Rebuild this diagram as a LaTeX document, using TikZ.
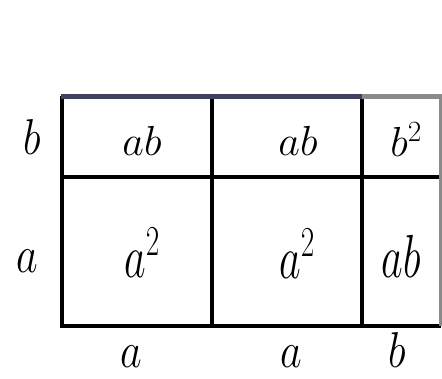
\RequirePackage{fix-cm}
\documentclass[tikz,border=0pt]{standalone}
\usetikzlibrary{positioning}
\definecolor{rimnavy}{RGB}{64,64,96}
\definecolor{rimgray}{RGB}{138,138,138}
\newcommand{\tallmath}[2]{\scalebox{1}[#1]{$#2$}}

\begin{document}
\begin{tikzpicture}[x=1pt, y=1pt,
		gridline/.style={line width=3.2pt, black},
		rimline/.style={line width=5pt},
		cellterm/.style={inner sep=0pt, anchor=base, font=\fontsize{42}{46}\selectfont}]
		\useasboundingbox (0,0) rectangle (442,-379);
		% grid corners g<column><row>
		\foreach \x [count=\i from 0] in {62, 212, 362, 440.5} {
			\foreach \y [count=\j from 0] in {-96.5, -177, -326} {
				\coordinate (g\i\j) at (\x,\y);
			}
		}
		\draw[gridline] (g00) -- (g02) -- (g32);
		\draw[gridline] (g01) -- (g31);
		\draw[gridline] (g10) -- (g12);
		\draw[gridline] (g20) -- (g22);
		\draw[line width=3pt, rimgray] (g30) -- (g32);
		\draw[rimline, rimgray] (g20) -- ([xshift=1.5pt]g30);
		\draw[rimline, rimnavy] ([xshift=-1.5pt]g00) -- (g20);
		% products in the cells
		\node[cellterm] (ab1) at (142,-156) {$ab$};
		\node[cellterm] (ab2) at (298,-156) {$ab$};
		\node[cellterm] (bb) at (406,-157) {$b^2$};
		\node[cellterm] (aa1) at (142,-278) {\tallmath{1.45}{a^2}};
		\node[cellterm] (aa2) at (297,-279) {\tallmath{1.45}{a^2}};
		\node[cellterm] (ab3) at (401,-278) {\tallmath{1.45}{ab}};
		% side lengths
		\node[cellterm] (sideb) at (32,-155) {\tallmath{1.2}{b}};
		\node[cellterm] (sidea) at (27,-273) {\tallmath{1.25}{a}};
		\foreach \x/\t [count=\k] in {131/a, 291/a, 397/b} {
			\node[cellterm] (foot\k) at (\x,-368) {\tallmath{1.2}{\t}};
		}
	\end{tikzpicture}
\end{document}
